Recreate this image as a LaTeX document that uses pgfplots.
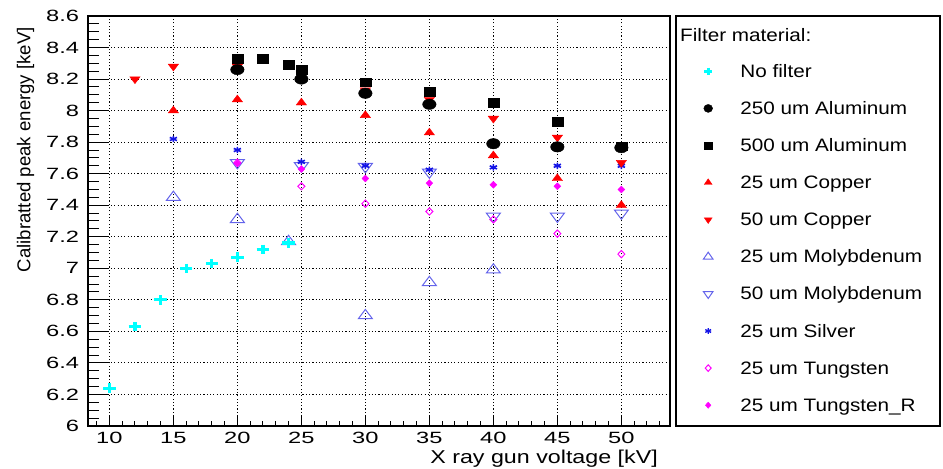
\documentclass[border=0pt]{standalone}
\usepackage{fontspec}
\setmainfont{Liberation Sans}
\newfontfamily\tickfont{Liberation Sans}[FakeStretch=1.45]
\newfontfamily\xlabfont{Liberation Sans}[FakeStretch=1.25]
\newfontfamily\legfont{Liberation Sans}[FakeStretch=1.15]
\usepackage{pgfplots}
\pgfplotsset{compat=1.18}
\definecolor{nofilt}{RGB}{0,255,255}
\definecolor{cured}{RGB}{255,0,0}
\definecolor{moblue}{RGB}{100,100,235}
\definecolor{agblue}{RGB}{20,20,230}
\definecolor{wmag}{RGB}{255,0,255}
\begin{document}
\begin{tikzpicture}
\begin{axis}[
  name=ax, scale only axis, width=582bp, height=410bp,
  xmin=8.33, xmax=53.8, ymin=6, ymax=8.6,
  clip=false,
  xtick={10,15,20,25,30,35,40,45,50},
  minor xtick={9,11,12,13,14,16,17,18,19,21,22,23,24,26,27,28,29,31,32,33,34,36,37,38,39,41,42,43,44,46,47,48,49,51,52,53},
  ytick={6,6.2,6.4,6.6,6.8,7,7.2,7.4,7.6,7.8,8,8.2,8.4,8.6},
  minor ytick={6.05,6.1,6.15,6.25,6.3,6.35,6.45,6.5,6.55,6.65,6.7,6.75,6.85,6.9,6.95,7.05,7.1,7.15,7.25,7.3,7.35,7.45,7.5,7.55,7.65,7.7,7.75,7.85,7.9,7.95,8.05,8.1,8.15,8.25,8.3,8.35,8.45,8.5,8.55},
  tick align=inside, tick pos=left,
  major tick length=10bp, minor tick length=5.5bp,
  major y tick style={/pgfplots/major tick length=21bp},
  minor y tick style={/pgfplots/minor tick length=11bp},
  tick style={black, line width=1bp},
  axis line style={black, line width=1.2bp},
  grid=major,
  major grid style={black, line width=0.9bp, dash pattern=on 1.1bp off 2.2bp},
  /pgf/number format/assume math mode=true,
  xticklabel style={font=\tickfont\fontsize{16.3bp}{18bp}\selectfont, inner sep=0pt, yshift=-5.7bp},
  yticklabel style={font=\tickfont\fontsize{16.3bp}{18bp}\selectfont, inner sep=0pt, xshift=-8.7bp},
  xlabel={X ray gun voltage [kV]},
  xlabel style={at={(rel axis cs:0.97938,-0.09098)}, anchor=base east, inner sep=0pt, font=\xlabfont\fontsize{18.6bp}{20bp}\selectfont},
  ylabel={Calibratted peak energy [keV]},
  ylabel style={at={(rel axis cs:-0.09914,0.97317)}, anchor=base east, inner sep=0pt, rotate=0, font=\fontsize{18.6bp}{20bp}\selectfont},
  legend image code/.code={\path (-16bp,0bp) (16bp,0bp); \draw[#1] plot coordinates {(0bp,6bp)};},
  legend style={at={(rel axis cs:1.03780,0.88220)}, anchor=north west, draw=none, fill=none,
    inner sep=0pt, outer sep=0pt, row sep=20.1bp, column sep=16bp,
    font=\legfont\fontsize{18bp}{20bp}\selectfont,
    nodes={inner sep=0pt, outer sep=0pt, text height=13bp, text depth=4bp},
    cells={anchor=base west}},
]
% ---- data (drawn in stacking order) ----
\addplot[forget plot, only marks, color=moblue, mark=triangle, mark size=6.2bp, mark options={xscale=1.3, line width=1bp}]
  coordinates {(15,7.45) (20,7.31) (24,7.17) (30,6.70) (35,6.91) (40,6.99)};
\addplot[forget plot, only marks, color=moblue, mark=triangle, mark size=6.2bp, mark options={rotate=180, xscale=1.3, line width=1bp}]
  coordinates {(20,7.67) (25,7.65) (30,7.645) (35,7.61) (40,7.33) (45,7.33) (50,7.35)};
\addplot[forget plot, only marks, color=agblue, mark=asterisk, mark size=3.2bp, mark options={xscale=1.3, line width=1.6bp}]
  coordinates {(15,7.82) (20,7.75) (25,7.675) (30,7.65) (35,7.625) (40,7.64) (45,7.65) (50,7.65)};
\addplot[forget plot, only marks, color=wmag, mark=diamond, mark size=3.6bp, mark options={xscale=1.3, line width=1bp}]
  coordinates {(20,7.67) (25,7.52) (30,7.41) (35,7.36) (40,7.31) (45,7.22) (50,7.09)};
\addplot[forget plot, only marks, color=wmag, mark=diamond*, mark size=3.5bp, mark options={xscale=1.3, fill=wmag}]
  coordinates {(20,7.665) (25,7.63) (30,7.57) (35,7.54) (40,7.53) (45,7.52) (50,7.50)};
\addplot[forget plot, only marks, color=nofilt, mark=+, mark size=4.8bp, mark options={xscale=1.3, line width=3.2bp}]
  coordinates {(10,6.24) (12,6.63) (14,6.80) (16,7.00) (18,7.03) (20,7.07) (22,7.12) (24,7.16)};
\addplot[forget plot, only marks, color=cured, mark=triangle*, mark size=4.6bp, mark options={xscale=1.3, fill=cured}]
  coordinates {(15,8.00) (20,8.07) (25,8.05) (30,7.97) (35,7.86) (40,7.715) (45,7.57) (50,7.40)};
\addplot[forget plot, only marks, color=cured, mark=triangle*, mark size=4.6bp, mark options={rotate=180, xscale=1.3, fill=cured}]
  coordinates {(12,8.20) (15,8.28) (20,8.28) (25,8.23) (30,8.13) (35,8.07) (40,7.95) (45,7.83) (50,7.67)};
\addplot[forget plot, only marks, color=black, mark=*, mark size=5.2bp, mark options={xscale=1.3, fill=black}]
  coordinates {(20,8.26) (25,8.20) (30,8.11) (35,8.04) (40,7.79) (45,7.77) (50,7.765)};
\addplot[forget plot, only marks, color=black, mark=square*, mark size=4.2bp, mark options={xscale=1.3, fill=black}]
  coordinates {(20,8.33) (22,8.33) (24,8.29) (25,8.26) (30,8.18) (35,8.12) (40,8.05) (45,7.93) (50,7.775)};
% ---- legend ----
\addlegendimage{color=nofilt, mark=+, mark size=3.6bp, mark options={xscale=1.15, line width=2.6bp}}
\addlegendentry{No filter}
\addlegendimage{color=black, mark=*, mark size=4bp, mark options={xscale=1.1, fill=black}}
\addlegendentry{250 um Aluminum}
\addlegendimage{color=black, mark=square*, mark size=3.4bp, mark options={xscale=1.2, fill=black}}
\addlegendentry{500 um Aluminum}
\addlegendimage{color=cured, mark=triangle*, mark size=3.8bp, mark options={xscale=1.2, fill=cured}}
\addlegendentry{25 um Copper}
\addlegendimage{color=cured, mark=triangle*, mark size=3.8bp, mark options={rotate=180, xscale=1.2, fill=cured}}
\addlegendentry{50 um Copper}
\addlegendimage{color=moblue, mark=triangle, mark size=4.6bp, mark options={xscale=1.2, line width=1bp}}
\addlegendentry{25 um Molybdenum}
\addlegendimage{color=moblue, mark=triangle, mark size=4.6bp, mark options={rotate=180, xscale=1.2, line width=1bp}}
\addlegendentry{50 um Molybdenum}
\addlegendimage{color=agblue, mark=asterisk, mark size=2.8bp, mark options={xscale=1.2, line width=1.4bp}}
\addlegendentry{25 um Silver}
\addlegendimage{color=wmag, mark=diamond, mark size=3.3bp, mark options={xscale=1.2, line width=1bp}}
\addlegendentry{25 um Tungsten}
\addlegendimage{color=wmag, mark=diamond*, mark size=3.1bp, mark options={xscale=1.2, fill=wmag}}
\addlegendentry{25 um Tungsten\_R}
% legend frame and title
\draw[black, line width=1.3bp] (rel axis cs:1.01031,0) rectangle (rel axis cs:1.46392,1);
\node[anchor=base west, inner sep=0pt, font=\legfont\fontsize{18bp}{20bp}\selectfont] at (rel axis cs:1.01718,0.93732) {Filter material:};
% overall picture extent
\path (rel axis cs:-0.15120,-0.10244) rectangle (rel axis cs:1.46907,1.03902);
\end{axis}
\end{tikzpicture}
\end{document}
